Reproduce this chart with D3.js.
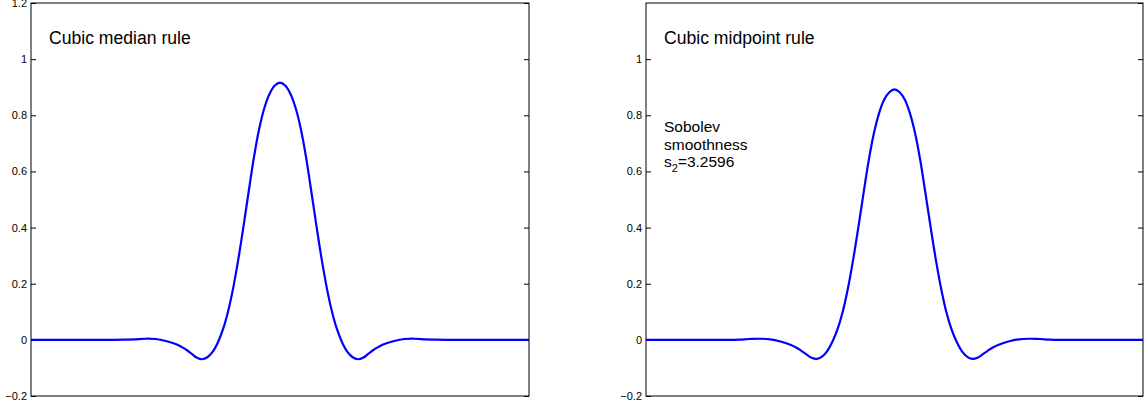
<!DOCTYPE html>
<html><head><meta charset="utf-8">
<script src="https://cdn.jsdelivr.net/npm/d3@7"></script>
<style>body{margin:0;background:#fff}svg{display:block}text{font-family:"Liberation Sans",Arial,sans-serif}</style>
</head><body>
<svg id="c" width="1146" height="406"></svg>
<script>
const xs = [-6,-5,-4.5,-4,-3.75,-3.5,-3.25,-3,-2.75,-2.5,-2.375,-2.25,-2.125,-2,-1.875,-1.75,-1.625,-1.5,-1.375,-1.25,-1.125,-1,-0.875,-0.75,-0.625,-0.5,-0.375,-0.25,-0.125,0,
            0.125,0.25,0.375,0.5,0.625,0.75,0.875,1,1.125,1.25,1.375,1.5,1.625,1.75,1.875,2,2.125,2.25,2.375,2.5,2.75,3,3.25,3.5,3.75,4,4.5,5,6];
const medianRule = [0,0,0,0,0.0005,0.002,0.004,0.003,-0.004,-0.016,-0.025,-0.036,-0.05,-0.064,-0.069,-0.062,-0.043,-0.01,0.037,0.102,0.187,0.291,0.409,0.533,0.653,0.753,0.827,0.877,0.906,0.916,
                    0.906,0.877,0.827,0.753,0.653,0.533,0.409,0.291,0.187,0.102,0.037,-0.01,-0.043,-0.062,-0.069,-0.064,-0.05,-0.036,-0.025,-0.016,-0.004,0.003,0.004,0.002,0.0005,0,0,0,0];
const midpointRule = [0,0,0,0,0.001,0.003,0.004,0.002,-0.006,-0.018,-0.027,-0.039,-0.052,-0.064,-0.068,-0.06,-0.04,-0.007,0.038,0.1,0.183,0.284,0.399,0.52,0.637,0.734,0.806,0.855,0.882,0.892,
                      0.882,0.855,0.806,0.734,0.637,0.52,0.399,0.284,0.183,0.1,0.038,-0.007,-0.04,-0.06,-0.068,-0.064,-0.052,-0.039,-0.027,-0.018,-0.006,0.002,0.004,0.003,0.001,0,0,0,0];
const yTicksLeft = [-0.2,0,0.2,0.4,0.6,0.8,1,1.2];
const yTicksRight = [-0.2,0,0.2,0.4,0.6,0.8,1];
const titles = ["Cubic median rule","Cubic midpoint rule"];
const noteLines = ["Sobolev","smoothness"];
const noteValue = "3.2596";

const svg = d3.select("#c");
const panels = [
  {x0:31, x1:529, data:medianRule, ticks:yTicksLeft, title:titles[0], note:false},
  {x0:646, x1:1143, data:midpointRule, ticks:yTicksRight, title:titles[1], note:true}
];
const y = d3.scaleLinear().domain([-0.2,1.2]).range([396,3]);
const fmt = v => (v<0?"\u2212":"") + String(Math.abs(+v.toFixed(1)));

panels.forEach(p=>{
  const x = d3.scaleLinear().domain([-6,6]).range([p.x0,p.x1]);
  const g = svg.append("g");
  const ax = d3.axisLeft(y).tickValues(p.ticks).tickSize(-5).tickPadding(4).tickFormat(fmt);
  const ga = g.append("g").attr("transform",`translate(${p.x0},0)`).call(ax);
  ga.select(".domain").remove();
  ga.selectAll("text").attr("font-size",11).attr("font-family","Liberation Sans, Arial, sans-serif").attr("fill","#000");
  ga.selectAll("line").attr("stroke","#000");
  const ar = d3.axisRight(y).tickValues(yTicksLeft).tickSize(-5).tickFormat("");
  const gr = g.append("g").attr("transform",`translate(${p.x1},0)`).call(ar);
  gr.select(".domain").remove();
  gr.selectAll("line").attr("stroke","#000");
  const line = d3.line().x((d,i)=>x(xs[i])).y(d=>y(d)).curve(d3.curveCatmullRom.alpha(0.5));
  g.append("path").datum(p.data).attr("d",line).attr("fill","none").attr("stroke","#0000ff").attr("stroke-width",2.2);
  g.append("rect").attr("x",p.x0).attr("y",3).attr("width",p.x1-p.x0).attr("height",393)
    .attr("fill","none").attr("stroke","#000").attr("stroke-width",1);
  g.append("text").attr("x",p.x0+18).attr("y",44).attr("font-size",17.6).text(p.title);
  if(p.note){
    noteLines.forEach((t,i)=>g.append("text").attr("x",p.x0+18).attr("y",132+i*17.5).attr("font-size",15.5).text(t));
    const t = g.append("text").attr("x",p.x0+18).attr("y",167).attr("font-size",15.5);
    t.append("tspan").text("s");
    t.append("tspan").attr("font-size",11).attr("dy",5).text("2");
    t.append("tspan").attr("dy",-5).text("="+noteValue);
  }
});
</script>
</body></html>
